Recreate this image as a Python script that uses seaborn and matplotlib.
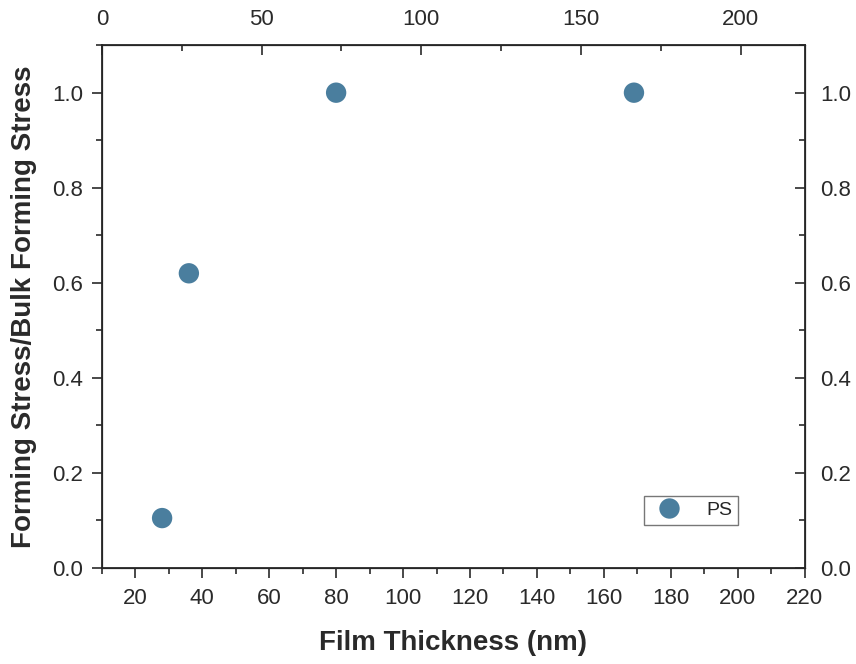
import numpy as np
import pandas as pd
import matplotlib
matplotlib.use('Agg')
import matplotlib.pyplot as plt
import seaborn as sns
from matplotlib.ticker import MultipleLocator, FormatStrFormatter

thickness = [28, 36, 80, 169]
stress_ratio = [0.105, 0.62, 1.0, 1.0]
series = ['PS'] * len(thickness)

df = pd.DataFrame({'Film Thickness (nm)': thickness, 'ratio': stress_ratio, 'series': series})

sns.set_style('ticks')
plt.rcParams['font.family'] = ['Liberation Sans', 'DejaVu Sans']

INK = '#2a2a2a'
fig = plt.figure(figsize=(8.56, 6.64), dpi=100)
ax = fig.add_axes([0.119, 0.1446, 0.821, 0.7874])

sns.scatterplot(data=df, x='Film Thickness (nm)', y='ratio', hue='series',
                palette={'PS': '#4a7e9e'}, s=215, edgecolor='none', ax=ax)

ax.set_xlim(10, 220)
ax.set_ylim(0, 1.1)
ax.xaxis.set_major_locator(MultipleLocator(20))
ax.xaxis.set_minor_locator(MultipleLocator(10))
ax.yaxis.set_major_locator(MultipleLocator(0.2))
ax.yaxis.set_minor_locator(MultipleLocator(0.1))
ax.yaxis.set_major_formatter(FormatStrFormatter('%.1f'))
ax.tick_params(which='major', direction='out', length=7.5, width=1.2, labelsize=16, colors=INK)
ax.tick_params(which='minor', direction='out', length=4.5, width=1.2, colors=INK)
ax.tick_params(axis='x', pad=7)
ax.tick_params(axis='y', pad=6)
ax.set_xlabel('Film Thickness (nm)', fontsize=20, fontweight='bold', labelpad=15, color=INK)
ax.set_ylabel('Forming Stress/Bulk Forming Stress', fontsize=20, fontweight='bold', labelpad=11, color=INK)
for sp in ax.spines.values():
    sp.set_linewidth(1.3)
    sp.set_color(INK)

# top axis (own scale 0-220)
top = ax.twiny()
top.set_xlim(0, 220)
top.xaxis.set_major_locator(MultipleLocator(50))
top.xaxis.set_minor_locator(MultipleLocator(25))
top.tick_params(which='major', direction='in', length=7.5, width=1.2, labelsize=16, colors=INK, pad=11)
top.tick_params(which='minor', direction='in', length=4.5, width=1.2, colors=INK)

# right axis mirroring y
right = ax.twinx()
right.set_ylim(0, 1.1)
right.yaxis.set_major_locator(MultipleLocator(0.2))
right.yaxis.set_minor_locator(MultipleLocator(0.1))
right.yaxis.set_major_formatter(FormatStrFormatter('%.1f'))
right.tick_params(which='major', direction='in', length=7.5, width=1.2, labelsize=16, colors=INK, pad=11)
right.tick_params(which='minor', direction='in', length=4.5, width=1.2, colors=INK)

handles, labels = ax.get_legend_handles_labels()
ax.legend(handles, labels, loc='lower right', bbox_to_anchor=(0.905, 0.082), fontsize=14,
          frameon=True, fancybox=False, edgecolor='#555555', markerscale=1.0,
          handlelength=2.0, handletextpad=0.9, borderpad=0.3, borderaxespad=0)

fig.savefig('out.png', dpi=100)
